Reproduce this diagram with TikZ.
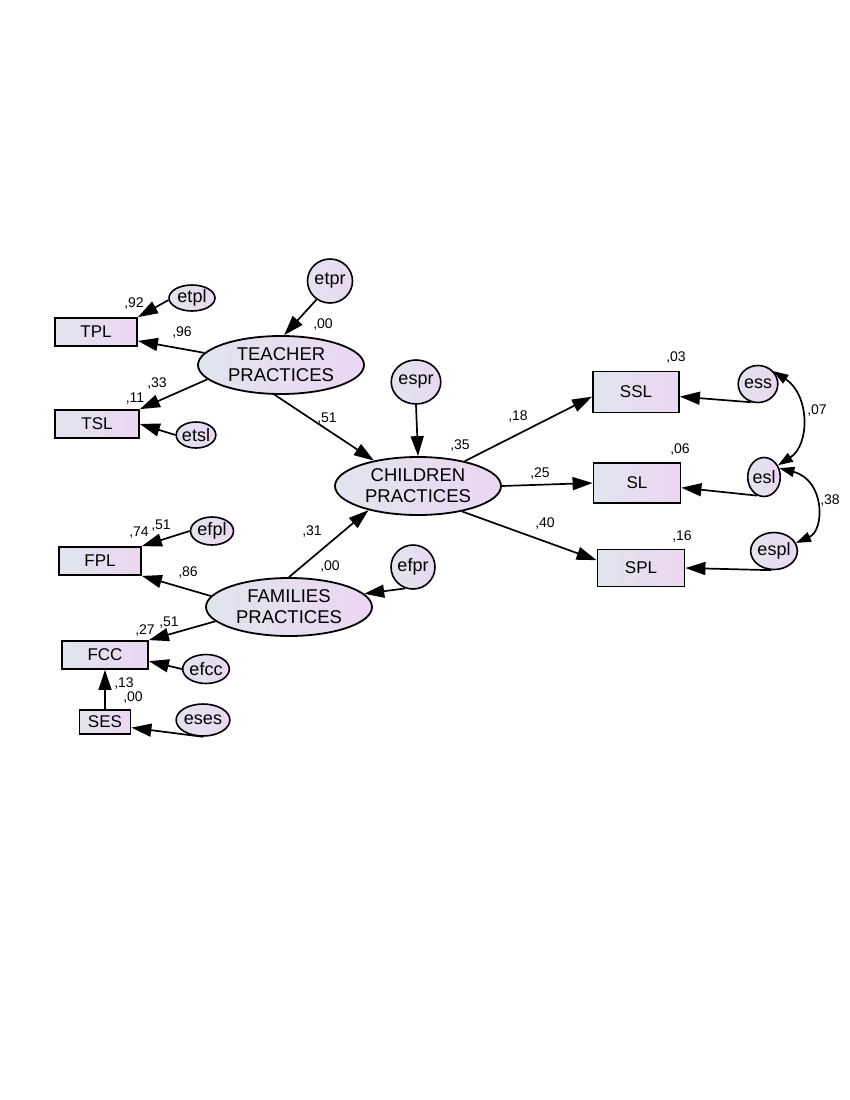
\documentclass[tikz,border=0pt]{standalone}
\usepackage{fontspec}
\setmainfont{Liberation Sans}
\usetikzlibrary{arrows.meta,shapes.geometric}
\definecolor{gl}{RGB}{224,229,238}
\definecolor{gr}{RGB}{236,214,242}
\begin{document}
\begin{tikzpicture}[x=1pt,y=-1pt,
  obs/.style={draw,line width=1.8pt,rectangle,left color=gl,right color=gr,inner sep=0pt,font=\fontsize{17}{18}\selectfont},
  lat/.style={draw,line width=1.8pt,ellipse,left color=gl,right color=gr,inner sep=0pt,align=center,minimum width=166pt,minimum height=58pt,font=\fontsize{18.5}{21}\selectfont},
  err/.style={draw,line width=1.6pt,ellipse,left color=gl,right color=gr,inner sep=0pt,font=\fontsize{18}{19}\selectfont},
  lbl/.style={font=\fontsize{14}{15}\selectfont,inner sep=0pt},
  arr/.style={line width=1.7pt,-{Triangle[length=20pt,width=13pt]}},
  cov/.style={line width=1.7pt,{Triangle[length=15pt,width=10pt]}-{Triangle[length=15pt,width=10pt]}}]
\useasboundingbox[fill=white] (0,0) rectangle (850,1100);

% observed
\node[obs,minimum width=82pt,minimum height=28pt] (TPL) at (96,332) {TPL};
\node[obs,minimum width=84pt,minimum height=28pt] (TSL) at (97,424) {TSL};
\node[obs,minimum width=82pt,minimum height=28pt] (FPL) at (100,561) {FPL};
\node[obs,minimum width=86pt,minimum height=28pt] (FCC) at (105,655) {FCC};
\node[obs,minimum width=51pt,minimum height=24pt] (SES) at (105,722) {SES};
\node[obs,minimum width=86pt,minimum height=41pt] (SSL) at (636,392) {SSL};
\node[obs,minimum width=87pt,minimum height=40pt] (SL) at (637,483) {SL};
\node[obs,minimum width=87pt,minimum height=37pt] (SPL) at (641,568) {SPL};

% latent
\node[lat] (TEA) at (281,365) {TEACHER\\PRACTICES};
\node[lat] (CHI) at (418,486) {CHILDREN\\PRACTICES};
\node[lat] (FAM) at (289,607) {FAMILIES\\PRACTICES};

% errors
\node[err,minimum width=46pt,minimum height=26pt] (etpl) at (192,298) {etpl};
\node[err,minimum width=38pt,minimum height=26pt] (etsl) at (196,435) {etsl};
\node[err,minimum width=43pt,minimum height=28pt] (efpl) at (212,531) {efpl};
\node[err,minimum width=43pt,minimum height=29pt] (efcc) at (206,669) {efcc};
\node[err,minimum width=44pt,minimum height=32pt] (eses) at (203,720) {eses};
\node[err,minimum width=45pt,minimum height=44pt] (etpr) at (330,281) {etpr};
\node[err,minimum width=44pt,minimum height=44pt] (espr) at (416,382) {espr};
\node[err,minimum width=44pt,minimum height=44pt] (efpr) at (413,567) {efpr};
\node[err,minimum width=32pt,minimum height=37pt] (ess) at (758,384) {ess};
\node[err,minimum width=32pt,minimum height=39pt] (esl) at (764,477) {esl};
\node[err,minimum width=41pt,minimum height=37pt] (espl) at (774,551) {espl};

% labels
\node[lbl] (l1) at (134,304) {,92};
\node[lbl] (l2) at (182,333) {,96};
\node[lbl] (l3) at (135,399) {,11};
\node[lbl] (l4) at (157,384) {,33};
\node[lbl] (l5) at (323,325) {,00};
\node[lbl] (l6) at (327,419) {,51};
\node[lbl] (l7) at (460,446) {,35};
\node[lbl] (l8) at (518,417) {,18};
\node[lbl] (l9) at (540,474) {,25};
\node[lbl] (l10) at (545,524) {,40};
\node[lbl] (l11) at (676,358) {,03};
\node[lbl] (l12) at (680,450) {,06};
\node[lbl] (l13) at (682,537) {,16};
\node[lbl] (l14) at (817,411) {,07};
\node[lbl] (l15) at (830,501) {,38};
\node[lbl] (l16) at (139,533) {,74};
\node[lbl] (l17) at (161,526) {,51};
\node[lbl] (l18) at (188,573) {,86};
\node[lbl] (l19) at (312,532) {,31};
\node[lbl] (l20) at (330,567) {,00};
\node[lbl] (l21) at (145,630) {,27};
\node[lbl] (l22) at (169,623) {,51};
\node[lbl] (l23) at (124,683) {,13};
\node[lbl] (l24) at (133,697) {,00};

% paths
\draw[arr] (etpl.185) -- (TPL.north east);
\draw[arr] (TEA.171) -- (TPL.-12);
\draw[arr] (TEA.191) -- (TSL.north east);
\draw[arr] (etsl.west) -- (TSL.east);
\draw[arr] (etpr.234) -- (TEA.84);
\draw[arr] (TEA.258) -- (CHI.150);
\draw[arr] (espr.south) -- (CHI.north);
\draw[arr] (CHI.28) -- (SSL.186);
\draw[arr] (CHI.east) -- (SL.west);
\draw[arr] (CHI.-30) -- (SPL.170);
\draw[arr] (FAM.north) -- (CHI.206);
\draw[arr] (efpr.250) -- (FAM.10);
\draw[arr] (FAM.172) -- (FPL.south east);
\draw[arr] (efpl.west) -- (FPL.north east);
\draw[arr] (FAM.191) -- (FCC.north east);
\draw[arr] (efcc.west) -- (FCC.-8);
\draw[arr] (SES.north) -- (FCC.south);
\draw[arr] (eses.south) -- (SES.-12);
\draw[arr] (ess.250) -- (SSL.-6);
\draw[arr] (esl.250) -- (SL.-6);
\draw[arr] (espl.262) -- (SPL.east);
\draw[cov] (ess.40) .. controls (810,395) and (810,445) .. (esl.40);
\draw[cov] (esl.30) .. controls (825,480) and (825,530) .. (espl.20);
\end{tikzpicture}
\end{document}
